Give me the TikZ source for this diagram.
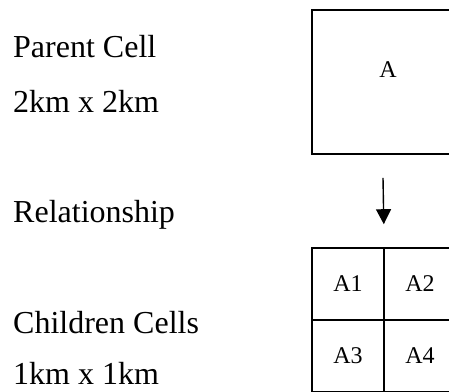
\documentclass[tikz,border=0pt]{standalone}
\usepackage{fontspec}
\setmainfont{Liberation Serif}
\usetikzlibrary{arrows.meta}

\begin{document}
\begin{tikzpicture}[x=1pt,y=-1pt,
    lefttext/.style={anchor=base west,inner sep=0pt,font=\fontsize{32}{36}\selectfont},
    cellbox/.style={draw,line width=1.6pt,minimum size=72pt,inner sep=0pt,font=\fontsize{24}{28}\selectfont},
    parentbox/.style={draw,line width=1.6pt,minimum size=144pt,inner sep=0pt}]
    \useasboundingbox (0,0) rectangle (449,391);
    \clip (0,0) rectangle (449,391);
    % left column
    \node[lefttext] (t parent) at (13,57) {Parent Cell};
    \node[lefttext] (t size2) at (13,112) {2km x 2km};
    \node[lefttext] (t rel) at (13,222) {Relationship};
    \node[lefttext] (t child) at (13,333) {Children Cells};
    \node[lefttext] (t size1) at (13,384) {1km x 1km};
    % parent cell
    \node[parentbox] (parent) at (384,82) {};
    \node[font=\fontsize{24}{28}\selectfont] (a) at (388,70) {A};
    % children cells
    \node[cellbox] (a1) at (348,284) {A1};
    \node[cellbox] (a2) at (420,284) {A2};
    \node[cellbox] (a3) at (348,356) {A3};
    \node[cellbox] (a4) at (420,356) {A4};
    % relationship arrow
    \draw[line width=1.4pt,-{Triangle[width=15pt,length=15pt]}]
      ([shift={(-1,23)}]parent.south) -- ([shift={(-1,-23)}]a1.north east);
  \end{tikzpicture}
\end{document}
